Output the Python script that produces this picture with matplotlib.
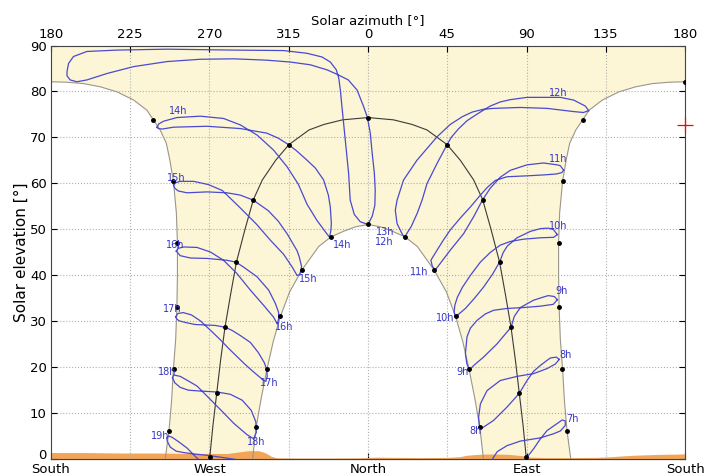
import matplotlib
matplotlib.use("Agg")
import matplotlib.pyplot as plt
import matplotlib.transforms as mtransforms

# ---- data (u = azimuth from North, East positive, West negative; el = elevation) ----
outer_u = [115.1, 113.0, 111.5, 110.5, 109.2, 108.5, 108.2, 108.2, 108.8, 110.5, 112.5,
           114.5, 118.0, 121.9, 125.5, 133.0, 142.5, 152.0, 161.5, 171.0, 180.0]
outer_el = [0.0, 6.0, 12.7, 19.4, 26.0, 33.0, 40.0, 47.0, 53.5, 60.5, 65.0,
            68.7, 71.6, 73.8, 75.9, 78.1, 79.9, 81.0, 81.7, 82.0, 82.1]
inner_u = [0, 7, 14, 21, 28, 37.5, 44.5, 49.7, 53.8, 57.4, 60.7, 63.5, 65.5]
inner_el = [51.0, 50.5, 49.5, 48.3, 46.2, 41.1, 36.3, 31.0, 25.5, 19.4, 13.0, 6.8, 0.0]
equi_u = [0, 14.5, 25, 33.5, 44.9, 52.4, 60, 65.1, 69.8, 74.7, 78, 81.2, 83.7, 85.9, 88.1, 89.9]
equi_el = [74.3, 73.8, 72.8, 71.6, 68.4, 65.0, 60.7, 56.4, 50.0, 42.8, 35.8, 28.6, 21.4, 14.2, 7.0, 0.0]

hz_u = [-180, -160, -140, -120, -100, -80, -74, -68, -62, -58, -55, -52, -40, -20, -5, 5, 15,
        30, 45, 52, 56, 62, 70, 80, 88, 92, 100, 115, 130, 138, 150, 165, 180]
hz_el = [1.3, 1.3, 1.2, 1.2, 1.1, 1.1, 1.4, 1.7, 1.7, 1.2, 0.5, 0.15, 0.1, 0.1, 0.15, 0.3, 0.25,
         0.2, 0.25, 0.4, 0.7, 0.9, 1.0, 0.9, 0.6, 0.3, 0.2, 0.2, 0.25, 0.4, 0.7, 0.9, 1.0]

# analemmas, one per clock hour
a07_u = [87.6, 90.3, 94.0, 97.9, 101.7, 107.3, 110.3, 112.0, 112.0, 109.2, 105.4, 97.9, 86.5, 78.9, 73.4, 71.3, 69.5]
a07_el = [-1.1, 0.3, 2.1, 4.3, 6.1, 7.6, 8.4, 8.2, 7.2, 6.0, 5.4, 4.5, 3.8, 2.8, 1.5, 0.3, -0.9]
a08_u = [108.6, 106.9, 103.5, 101.7, 97.9, 94.0, 90.3, 85.9, 78.9, 71.3, 66.6, 64.1,
         63.2, 62.8, 63.8, 67.6, 75.1, 84.6, 94.0, 101.7, 106.4, 108.6]
a08_el = [21.6, 22.1, 21.9, 21.4, 20.3, 19.0, 17.0, 14.2, 11.2, 8.3, 7.1, 6.5,
          7.2, 9.0, 11.9, 14.8, 17.0, 17.9, 18.5, 19.6, 20.6, 21.6]
a09_u = [107.5, 105.8, 102.4, 99.7, 94.0, 86.5, 83.1, 81.2, 76.8, 73.3, 65.6, 60.4, 57.5,
         56.1, 55.3, 56.2, 58.1, 61.9, 66.6, 71.3, 78.9, 88.4, 97.9, 105.2, 107.5]
a09_el = [34.6, 35.3, 35.5, 35.2, 34.5, 32.9, 31.0, 28.6, 26.6, 25.0, 22.1, 20.4, 19.3,
          20.7, 22.8, 26.5, 28.4, 30.1, 31.5, 32.3, 32.7, 32.9, 33.2, 33.6, 34.6]
a10_u = [107.5, 105.2, 102.4, 97.9, 92.2, 84.6, 79.1, 76.8, 74.7, 70.6, 65.5, 60.4, 55.3, 51.3, 49.6,
         48.9, 49.3, 50.7, 53.6, 58.1, 63.8, 69.4, 75.1, 80.8, 88.4, 97.9, 105.4, 107.5]
a10_el = [48.8, 49.9, 50.2, 50.1, 49.5, 48.1, 46.3, 44.9, 42.8, 40.1, 37.3, 34.9, 32.7, 31.4, 30.9,
          31.9, 33.4, 35.1, 37.3, 39.9, 42.8, 44.9, 46.5, 47.3, 47.8, 48.1, 48.2, 48.8]
a11_u = [111.1, 109.2, 107.3, 99.7, 90.3, 80.8, 75.1, 69.4, 65.1, 60.0, 54.3, 46.7, 41.0, 38.2,
         36.5, 35.7, 39.2, 42.8, 46.7, 52.4, 58.1, 63.8, 67.8, 72.3, 78.9, 90.3, 99.7, 106.9, 110.0, 111.1]
a11_el = [62.8, 63.8, 64.0, 64.4, 64.0, 62.8, 61.3, 58.9, 56.4, 52.7, 49.0, 45.4, 42.5, 41.1,
          41.9, 43.2, 45.4, 47.6, 49.8, 52.4, 54.8, 57.4, 59.1, 60.6, 61.4, 61.6, 61.8, 62.0, 62.3, 62.8]
a12_u = [125.3, 123.4, 116.8, 109.2, 101.7, 90.3, 80.8, 75.1, 69.4, 65.5, 60.9, 56.2, 51.3, 47.3,
         44.9, 39.2, 33.5, 30.7, 28.0, 24.6, 21.8, 20.9,
         19.3, 16.5, 15.5, 16.5, 20.2, 27.8, 39.2, 46.7, 53.6, 59.2, 65.5, 71.3, 86.5, 101.7,
         116.8, 122.3, 125.3]
a12_el = [75.8, 76.8, 78.1, 78.7, 78.7, 78.7, 78.2, 77.7, 76.8, 75.9, 74.8, 73.6, 71.8, 70.0,
          68.4, 64.3, 59.9, 56.3, 53.5, 50.6, 48.9, 48.1,
          49.0, 51.2, 54.1, 56.3, 60.7, 65.0, 70.1, 72.8, 74.5, 75.5, 76.1, 76.3, 76.5, 76.3,
          75.6, 75.4, 75.8]
a13_u = [0, 2.4, 3.9, 4.1, 3.6, 2.2, 1.3, -0.4, -2.5, -6.2, -11.2, -17.4, -23.3, -32.8, -44.2,
         -57.4, -76.3, -95.2, -114.1, -133.1, -148.2, -159.6, -165.3, -169.1, -170.9, -170.9,
         -170.0, -167.2, -159.6, -142.5, -114.1, -76.3, -47.9, -34.6, -26.1, -21.4, -18.0,
         -16.6, -15.7, -14.8, -12.9, -11.0, -10.1, -7.8, -4.4, 0]
a13_el = [51.0, 52.8, 55.2, 58.5, 62.2, 67.2, 70.9, 74.4, 76.7, 80.3, 82.5, 83.7, 84.7, 85.8, 86.4,
          86.8, 87.1, 87.0, 86.5, 85.4, 83.9, 82.5, 82.1, 82.5, 83.4, 84.3,
          86.1, 87.6, 88.7, 89.0, 89.2, 89.0, 88.9, 88.3, 87.5, 86.4, 84.7,
          82.9, 80.3, 76.7, 69.4, 62.1, 56.3, 53.2, 51.6, 51.0]
a14_u = [-119.8, -118.8, -116.1, -108.5, -95.2, -82.0, -72.5, -63.0, -53.6, -46.0, -39.6, -34.6,
         -29.0, -24.2, -21.8, -21.1, -20.8, -21.4, -22.5, -25.2, -29.9, -34.6, -40.7, -45.1, -50.9,
         -57.4, -72.5, -91.4, -110.4, -116.8, -119.1, -119.8]
a14_el = [72.2, 72.9, 73.5, 74.3, 74.6, 74.1, 72.7, 70.5, 67.2, 63.6, 59.8, 55.4,
          51.9, 49.4, 48.2, 49.7, 51.2, 54.8, 57.4, 60.7, 63.3, 65.0, 67.1, 68.4, 69.8,
          70.9, 71.9, 72.4, 72.2, 71.8, 71.9, 72.2]
a15_u = [-110.4, -109.2, -106.6, -99.0, -90.7, -82.7, -72.5, -63.4, -55.5, -47.9, -43.0, -40.3,
         -38.7, -37.7, -39.0, -40.3, -45.8, -50.9, -56.6, -65.1, -72.5, -80.1, -91.4, -102.8,
         -107.7, -109.7, -110.4]
a15_el = [59.6, 60.1, 60.4, 60.4, 59.7, 58.4, 54.6, 51.1, 47.6, 44.5, 41.7, 39.9,
          40.1, 41.8, 43.9, 45.3, 48.9, 51.7, 54.0, 56.3, 57.4, 57.9, 58.1, 57.9,
          58.3, 58.9, 59.6]
a16_u = [-108.9, -107.7, -104.7, -97.1, -89.5, -82.0, -74.4, -66.8, -59.3, -53.6, -51.5,
         -50.7, -50.8, -52.6, -56.4, -63.0, -70.6, -75.0, -80.1, -91.4, -100.9, -106.6, -108.9]
a16_el = [45.2, 45.8, 46.1, 46.0, 45.0, 43.2, 40.3, 36.7, 33.4, 30.8, 29.3,
          30.5, 31.9, 33.8, 36.7, 39.6, 41.7, 42.8, 43.2, 43.6, 43.7, 44.2, 45.2]
a17_u = [-109.2, -108.0, -104.9, -100.3, -95.2, -89.6, -83.9, -79.4, -74.6, -70.3, -66.0, -62.3,
         -59.5, -58.0, -57.2, -57.5, -58.9, -62.3, -66.8, -72.5, -77.1, -81.0, -86.7, -92.4,
         -98.1, -103.2, -107.2, -108.6, -109.2]
a17_el = [30.9, 31.6, 31.8, 31.3, 30.0, 28.0, 25.9, 24.1, 22.3, 20.7, 19.2, 18.0,
          17.1, 16.8, 17.9, 19.4, 20.9, 23.1, 25.3, 26.8, 27.9, 28.6, 29.0, 29.1,
          29.2, 29.6, 30.0, 30.4, 30.9]
a18_u = [-111.0, -110.3, -106.6, -102.0, -97.1, -91.4, -83.9, -76.3, -68.7, -64.9, -63.4, -63.7,
         -66.3, -71.4, -78.2, -85.8, -95.2, -102.1, -106.6, -109.7, -111.0]
a18_el = [17.6, 18.2, 17.9, 16.9, 15.8, 13.6, 10.7, 7.7, 5.2, 4.3, 5.7, 8.0,
          10.5, 12.7, 14.0, 14.5, 14.7, 14.9, 15.5, 16.5, 17.6]
a19_u = [-93.5, -97.1, -102.8, -107.7, -111.1, -113.1, -114.3, -114.0, -112.3, -108.9, -104.7,
         -99.0, -91.4, -83.9, -75.3, -69.6]
a19_el = [-1.1, 0.1, 2.3, 3.7, 4.6, 4.9, 4.5, 3.8, 2.5, 1.6, 1.3, 1.0, 0.7, 0.3, -0.2, -0.9]

# solstice / equinox points of each hour
sum_u = [113.0, 110.3, 108.5, 108.2, 110.5, 121.9, 180.0, -121.9, -110.5, -108.2, -108.5, -110.3, -113.0]
sum_el = [6.0, 19.4, 33.0, 47.0, 60.5, 73.8, 82.1, 73.8, 60.5, 47.0, 33.0, 19.4, 6.0]
eq_u = [89.9, 85.9, 81.2, 74.7, 65.1, 44.9, 0.0, -44.9, -65.1, -74.7, -81.2, -85.9, -89.9]
eq_el = [0.3, 14.2, 28.6, 42.8, 56.4, 68.4, 74.3, 68.4, 56.4, 42.8, 28.6, 14.2, 0.3]
win_u = [63.5, 57.3, 49.7, 37.5, 21.0, 0.0, -21.0, -37.5, -49.7, -57.3, -63.5]
win_el = [6.8, 19.4, 31.0, 41.1, 48.3, 51.0, 48.3, 41.1, 31.0, 19.4, 6.8]

# hour labels
lab_text = ["14h", "15h", "16h", "17h", "18h", "19h",
            "14h", "15h", "16h", "17h", "18h", "13h", "12h",
            "12h", "11h", "10h", "9h", "8h", "7h",
            "11h", "10h", "9h", "8h"]
lab_u = [-108.0, -108.9, -109.7, -111.1, -114.0, -117.9,
         -14.9, -34.2, -47.5, -56.2, -63.4, 9.5, 9.5,
         108.2, 107.8, 108.2, 109.8, 112.0, 116.0,
         29.1, 44.1, 53.8, 60.8]
lab_el = [75.7, 61.1, 46.6, 32.5, 18.9, 4.8,
          46.6, 39.1, 28.6, 16.5, 3.6, 49.3, 47.2,
          79.7, 65.2, 50.7, 36.4, 22.5, 8.6,
          40.7, 30.7, 18.9, 5.9]

top_ticks = [-180, -135, -90, -45, 0, 45, 90, 135, 180]
top_labels = ["180", "225", "270", "315", "0", "45", "90", "135", "180"]
bottom_ticks = [-180, -90, 0, 90, 180]
bottom_labels = ["South", "West", "North", "East", "South"]

# ---- figure ----
fig = plt.figure(figsize=(7.06, 4.75), dpi=100)
ax = fig.add_axes([0.0722, 0.0347, 0.8981, 0.8695])

cream = "#fcf5d6"
left_outer_u = [-u for u in outer_u]
left_inner_u = [-u for u in inner_u]
poly_u = outer_u + [180, -180] + left_outer_u[::-1] + left_inner_u[::-1] + inner_u
poly_el = outer_el + [90, 90] + outer_el[::-1] + inner_el[::-1] + inner_el
ax.fill(poly_u, poly_el, color=cream, lw=0, zorder=0)

ax.fill_between(hz_u, 0, hz_el, color="#f4a456", lw=0, zorder=1)

bcol = "#9a968a"
ax.plot(outer_u, outer_el, color=bcol, lw=0.8, zorder=2)
ax.plot(left_outer_u, outer_el, color=bcol, lw=0.8, zorder=2)
ax.plot(inner_u, inner_el, color=bcol, lw=0.8, zorder=2)
ax.plot(left_inner_u, inner_el, color=bcol, lw=0.8, zorder=2)
ax.plot(equi_u, equi_el, color="#3a3a3a", lw=0.8, zorder=2)
ax.plot([-u for u in equi_u], equi_el, color="#3a3a3a", lw=0.8, zorder=2)

blue = "#4a4ad0"
for uu, ee in [(a07_u, a07_el), (a08_u, a08_el), (a09_u, a09_el), (a10_u, a10_el),
               (a11_u, a11_el), (a12_u, a12_el), (a13_u, a13_el), (a14_u, a14_el),
               (a15_u, a15_el), (a16_u, a16_el), (a17_u, a17_el), (a18_u, a18_el),
               (a19_u, a19_el)]:
    ax.plot(uu, ee, color=blue, lw=0.9, zorder=3)

ax.plot(sum_u, sum_el, "o", color="black", ms=2.5, zorder=4)
ax.plot(eq_u, eq_el, "o", color="black", ms=2.5, zorder=4)
ax.plot(win_u, win_el, "o", color="black", ms=2.5, zorder=4)

for t, x, y in zip(lab_text, lab_u, lab_el):
    ax.text(x, y, t, color="#3535c8", fontsize=7, ha="center", va="center", zorder=5)

# current position marker on the right border
ax.plot([180], [72.6], "+", color="red", ms=12, mew=0.9, clip_on=False, zorder=6)

ax.set_xlim(-180, 180)
ax.set_ylim(0, 90)
ax.set_yticks(range(0, 91, 10))
ax.set_xticks(top_ticks)
ax.set_xticklabels(top_labels)
ax.xaxis.tick_top()
ax.xaxis.set_label_position("top")
ax.set_xlabel("Solar azimuth [°]", fontsize=9.5, labelpad=3)
ax.set_ylabel("Solar elevation [°]", fontsize=11, labelpad=1)
ax.tick_params(axis="both", direction="in", length=4, labelsize=9.5, pad=3)
ax.tick_params(axis="y", right=True)
ax.grid(True, color="#b0b0b0", linestyle=":", lw=0.8)

sec = ax.secondary_xaxis("bottom")
sec.set_xticks(bottom_ticks)
sec.set_xticklabels(bottom_labels)
sec.tick_params(direction="in", length=4, labelsize=9.5, pad=3.5)

# lift the "0" elevation label a little so it clears "South"
fig.canvas.draw()
zero_lab = ax.get_yticklabels()[0]
zero_lab.set_transform(zero_lab.get_transform()
                       + mtransforms.ScaledTranslation(0, 3 / 72, fig.dpi_scale_trans))

for s in ax.spines.values():
    s.set_color("#444444")

fig.savefig("out.png", dpi=100)
